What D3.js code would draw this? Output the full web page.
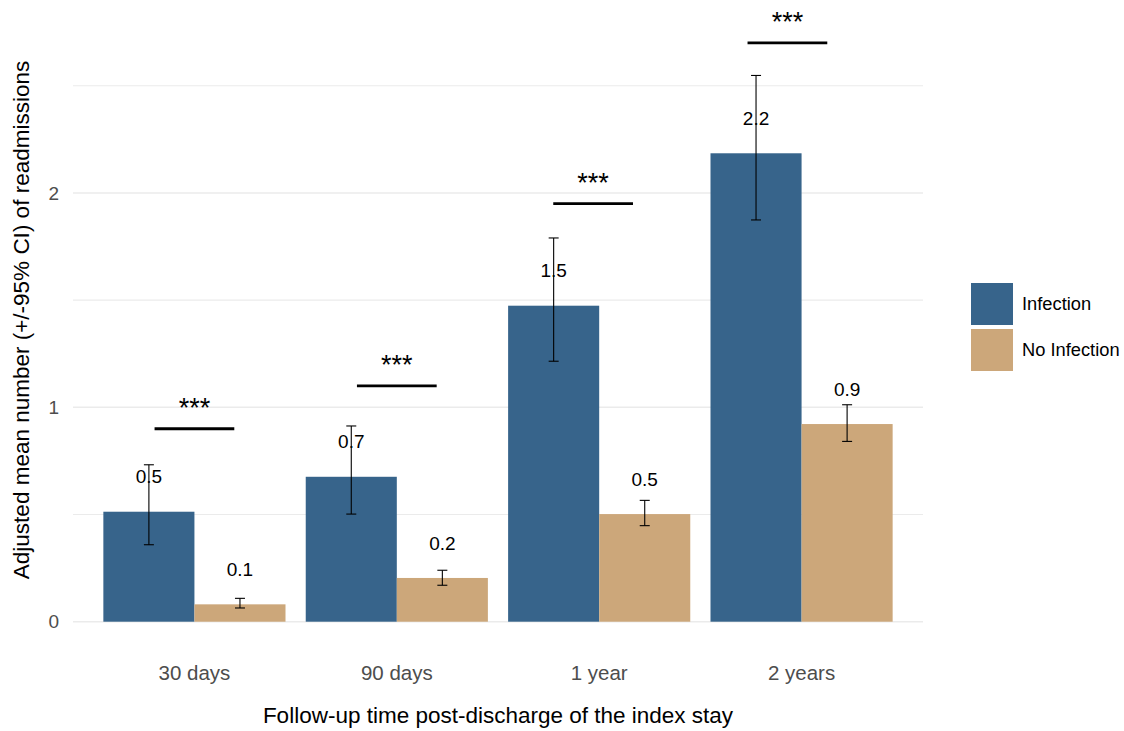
<!DOCTYPE html>
<html>
<head>
<meta charset="utf-8">
<script src="https://cdn.jsdelivr.net/npm/d3@7"></script>
<style>
  body { margin: 0; background: #fff; }
  text { font-family: "Liberation Sans", Arial, sans-serif; }
</style>
</head>
<body>
<div id="chart"></div>
<script>
// Chart size
const WIDTH = 1124;
const HEIGHT = 731;
const PANEL = { left: 73, right: 923, top: 0, bottom: 621.7 };

// Data
const periods = ['30 days', '90 days', '1 year', '2 years'];
const groups = ['Infection', 'No Infection'];
const infectionMean = [0.513, 0.676, 1.474, 2.185];
const infectionLow = [0.359, 0.502, 1.215, 1.874];
const infectionHigh = [0.732, 0.913, 1.790, 2.548];
const noInfectionMean = [0.081, 0.204, 0.502, 0.922];
const noInfectionLow = [0.064, 0.170, 0.448, 0.841];
const noInfectionHigh = [0.109, 0.240, 0.566, 1.012];
// significance bars: position on the category axis (1 = first group) and height
const sigPos = [1, 2, 2.97, 3.93];
const sigHeight = [0.90, 1.10, 1.95, 2.70];
const sigLabel = ['***', '***', '***', '***'];
const yTicks = [0, 1, 2];
const yGrid = [0, 0.5, 1, 1.5, 2, 2.5];

const COLORS = { 'Infection': '#37648b', 'No Infection': '#cca77a' };

const svg = d3.select('#chart')
  .append('svg')
  .attr('width', WIDTH)
  .attr('height', HEIGHT);

// Scales
const xScale = d3.scaleBand()
  .domain(periods)
  .range([PANEL.left, PANEL.right])
  .paddingInner(0.1)
  .paddingOuter(0.15);

const xInner = d3.scaleBand()
  .domain(groups)
  .range([0, xScale.bandwidth()]);

// continuous version of the category axis, for the significance bars
const step = xScale.step();
const firstMid = xScale(periods[0]) + xScale.bandwidth() / 2;
const xPos = d3.scaleLinear()
  .domain([1, 2])
  .range([firstMid, firstMid + step]);

const yScale = d3.scaleLinear()
  .domain([0, 2.9])
  .range([PANEL.bottom, PANEL.top]);

// Gridlines
svg.append('g')
  .selectAll('line')
  .data(yGrid)
  .join('line')
  .attr('x1', PANEL.left)
  .attr('x2', PANEL.right)
  .attr('y1', d => yScale(d))
  .attr('y2', d => yScale(d))
  .attr('stroke', '#ebebeb')
  .attr('stroke-width', d => yTicks.includes(d) ? 1.6 : 1.1);

// Bars
const rows = [];
periods.forEach((p, i) => {
  rows.push({ period: p, group: 'Infection', mean: infectionMean[i], low: infectionLow[i], high: infectionHigh[i] });
  rows.push({ period: p, group: 'No Infection', mean: noInfectionMean[i], low: noInfectionLow[i], high: noInfectionHigh[i] });
});

const barX = d => xScale(d.period) + xInner(d.group);
const barMid = d => barX(d) + xInner.bandwidth() / 2;

svg.append('g')
  .selectAll('rect')
  .data(rows)
  .join('rect')
  .attr('x', barX)
  .attr('width', xInner.bandwidth())
  .attr('y', d => yScale(d.mean))
  .attr('height', d => yScale(0) - yScale(d.mean))
  .attr('fill', d => COLORS[d.group]);

// Error bars
const err = svg.append('g')
  .attr('stroke', '#000')
  .attr('stroke-width', 1.1);

const CAP = 5;
err.selectAll('.stem')
  .data(rows)
  .join('line')
  .attr('class', 'stem')
  .attr('x1', barMid).attr('x2', barMid)
  .attr('y1', d => yScale(d.low)).attr('y2', d => yScale(d.high));

err.selectAll('.capTop')
  .data(rows)
  .join('line')
  .attr('class', 'capTop')
  .attr('x1', d => barMid(d) - CAP).attr('x2', d => barMid(d) + CAP)
  .attr('y1', d => yScale(d.high)).attr('y2', d => yScale(d.high));

err.selectAll('.capBottom')
  .data(rows)
  .join('line')
  .attr('class', 'capBottom')
  .attr('x1', d => barMid(d) - CAP).attr('x2', d => barMid(d) + CAP)
  .attr('y1', d => yScale(d.low)).attr('y2', d => yScale(d.low));

// Value labels
svg.append('g')
  .selectAll('text')
  .data(rows)
  .join('text')
  .attr('x', barMid)
  .attr('y', d => yScale(d.mean) - 35)
  .attr('dy', '0.35em')
  .attr('text-anchor', 'middle')
  .attr('font-size', 19)
  .attr('fill', '#000')
  .text(d => d3.format('.1f')(d.mean));

// Significance bars and stars
const sig = svg.append('g');
sig.selectAll('line')
  .data(sigPos)
  .join('line')
  .attr('x1', d => xPos(d - 0.197))
  .attr('x2', d => xPos(d + 0.197))
  .attr('y1', (d, i) => yScale(sigHeight[i]))
  .attr('y2', (d, i) => yScale(sigHeight[i]))
  .attr('stroke', '#000')
  .attr('stroke-width', 2.8);

sig.selectAll('text')
  .data(sigPos)
  .join('text')
  .attr('x', d => xPos(d))
  .attr('y', (d, i) => yScale(sigHeight[i]) - 12)
  .attr('text-anchor', 'middle')
  .attr('font-size', 27)
  .attr('fill', '#000')
  .text((d, i) => sigLabel[i]);

// Axes
const yAxis = d3.axisLeft(yScale)
  .tickValues(yTicks)
  .tickSize(0)
  .tickPadding(0)
  .tickFormat(d3.format('d'));

svg.append('g')
  .attr('transform', `translate(${PANEL.left - 14}, 0)`)
  .call(yAxis)
  .call(g => g.select('.domain').remove())
  .selectAll('text')
  .attr('font-size', 19)
  .attr('fill', '#4d4d4d');

const xAxis = d3.axisBottom(xScale)
  .tickSize(0)
  .tickPadding(0);

svg.append('g')
  .attr('transform', `translate(0, ${PANEL.bottom + 44})`)
  .call(xAxis)
  .call(g => g.select('.domain').remove())
  .selectAll('text')
  .attr('font-size', 20.5)
  .attr('fill', '#4d4d4d');

// Axis titles
svg.append('text')
  .attr('x', 498)
  .attr('y', 723)
  .attr('text-anchor', 'middle')
  .attr('font-size', 22.5)
  .attr('fill', '#000')
  .text('Follow-up time post-discharge of the index stay');

svg.append('text')
  .attr('transform', `translate(29, 320) rotate(-90)`)
  .attr('text-anchor', 'middle')
  .attr('font-size', 22.5)
  .attr('fill', '#000')
  .text('Adjusted mean number (+/-95% CI) of readmissions');

// Legend
const legend = svg.append('g')
  .attr('transform', 'translate(971, 283)');

legend.selectAll('rect')
  .data(groups)
  .join('rect')
  .attr('x', 0)
  .attr('y', (d, i) => i * 46)
  .attr('width', 42)
  .attr('height', 42)
  .attr('fill', d => COLORS[d]);

legend.selectAll('text')
  .data(groups)
  .join('text')
  .attr('x', 51)
  .attr('y', (d, i) => i * 46 + 21)
  .attr('dy', '0.35em')
  .attr('font-size', 18.3)
  .attr('fill', '#000')
  .text(d => d);
</script>
</body>
</html>
